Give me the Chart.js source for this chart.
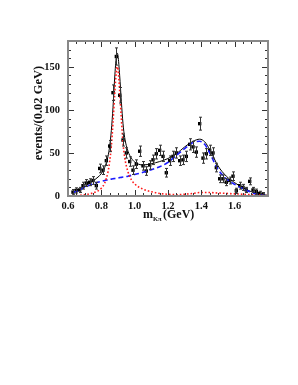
<!DOCTYPE html>
<html><head><meta charset="utf-8">
<script src="https://cdn.jsdelivr.net/npm/chart.js@4/dist/chart.umd.min.js"></script>
<style>html,body{margin:0;padding:0;background:#fff;}canvas{display:block;}</style>
</head><body>
<canvas id="c" width="298" height="385"></canvas>
<script>
// ---- data ----
const massBins = [0.63,0.65,0.67,0.69,0.71,0.73,0.75,0.77,0.79,0.81,0.83,0.85,0.87,0.89,0.91,0.93,0.95,0.97,0.99,1.01,1.03,1.05,1.07,1.09,1.11,1.13,1.15,1.17,1.19,1.21,1.23,1.25,1.27,1.29,1.31,1.33,1.35,1.37,1.39,1.41,1.43,1.45,1.47,1.49,1.51,1.53,1.55,1.57,1.59,1.61,1.63,1.65,1.67,1.69,1.71,1.73,1.75,1.77];
const counts = [4.5,6.5,7,12,15,16,18,12,32,30,41,58,120,162,117,65,50,40,30,37,52,35,29,36,42,49,53,46,27,41,46,50,41,42,46,60,57,51,84,44,49,53,50,33,20,20,16,18,23,6,12,10,7,17,7,5,3,2];
const errors = [3,3,3,4,4,4,4.5,4,5,5,5.5,6.5,9,10,9,7,6,5.5,5,5,6,5,5,5,5.5,6,6,6,5,5.5,6,6,5.5,5.5,6,6.5,6.5,6,7.5,6,6,6,6,5,4.5,4.5,4,4,5,3,4,3.5,3,4,3,3,2.5,2];

const curveMass = [0.63,0.66,0.70,0.74,0.78,0.80,0.82,0.84,0.85,0.86,0.87,0.88,0.89,0.895,0.90,0.91,0.92,0.93,0.94,0.96,0.98,1.00,1.05,1.10,1.15,1.20,1.25,1.30,1.35,1.39,1.42,1.45,1.50,1.55,1.60,1.65,1.70,1.75,1.80];
const totalFit = [4,6.5,11,16,22,26,33,46,58,76,103,137,162,166,163,140,110,84,68,52,44,39.5,36,37.5,40,43.5,49,57,63.5,66,63,54,35,23,15.5,9.5,5,2,0.8];
const kstarFit = [0,0.5,1.5,3,6,9,15,28,40,58,85,118,145,150,147,122,90,62,45,28,19,14,8,5,3,2,1.5,2,3,4,4,4,3.5,3,2.5,2,1.5,1,0.5];
const broadFit = [4,6,10,13.5,16,17,18,18.8,19.2,19.6,20,20.3,20.6,20.8,21,21.3,21.6,22,22.3,23,24,25,27.5,30.5,34,39,47,55,62,63.5,60,50,31,20,13.5,8.5,4.2,1.2,0.3];

const xTickValues = [0.6,0.8,1.0,1.2,1.4,1.6];
const xTickLabels = ['0.6','0.8','1.0','1.2','1.4','1.6'];
const yTickValues = [0,50,100,150];
const yTickLabels = ['0','50','100','150'];
const yTitle = 'events/(0.02 GeV)';
const xTitleMain = 'm';
const xTitleSub = 'Kπ';
const xTitleUnit = '(GeV)';

// ---- build ----
const pts = (xs, ys) => xs.map((v, i) => ({x: v, y: ys[i]}));
const SERIF = '"Liberation Serif", serif';

const framePlugin = {
  id: 'frameTicks',
  afterDatasetsDraw(chart) {
    const {ctx, scales: {x, y}} = chart;
    ctx.save();
    ctx.strokeStyle = '#333';
    ctx.lineWidth = 1;
    massBins.forEach((m, i) => {
      const px = Math.round(x.getPixelForValue(m)) + 0.5;
      const t = y.getPixelForValue(counts[i] + errors[i]);
      const b = y.getPixelForValue(Math.max(0, counts[i] - errors[i]));
      ctx.beginPath();
      ctx.moveTo(px, t); ctx.lineTo(px, b);
      ctx.moveTo(px - 1.5, t); ctx.lineTo(px + 1.5, t);
      ctx.moveTo(px - 1.5, b); ctx.lineTo(px + 1.5, b);
      ctx.stroke();
    });
    ctx.restore();
  },
  afterDraw(chart) {
    const {ctx, chartArea: a, scales: {x, y}} = chart;
    ctx.save();
    ctx.strokeStyle = '#333';
    ctx.lineWidth = 1;
    ctx.beginPath();
    for (let k = 0; k <= 24; k++) {
      const v = 0.6 + k * 0.05;
      const px = Math.round(x.getPixelForValue(v)) + 0.5;
      const len = (k % 4 === 0) ? 6 : 3;
      ctx.moveTo(px, a.bottom); ctx.lineTo(px, a.bottom - len);
      ctx.moveTo(px, a.top); ctx.lineTo(px, a.top + len);
    }
    for (let k = 0; k <= 18; k++) {
      const v = k * 10;
      const py = Math.round(y.getPixelForValue(v)) + 0.5;
      const len = (k % 5 === 0) ? 6 : 3;
      ctx.moveTo(a.left, py); ctx.lineTo(a.left + len, py);
      ctx.moveTo(a.right, py); ctx.lineTo(a.right - len, py);
    }
    ctx.stroke();
    ctx.strokeStyle = '#888';
    ctx.lineWidth = 2;
    ctx.strokeRect(a.left, a.top, a.right - a.left, a.bottom - a.top);

    // axis titles
    ctx.fillStyle = '#111';
    ctx.font = 'bold 12px ' + SERIF;
    ctx.textBaseline = 'alphabetic';
    ctx.textAlign = 'left';
    ctx.fillText(xTitleMain, 143, 218);
    ctx.font = 'bold 6.5px ' + SERIF;
    ctx.fillText(xTitleSub, 153, 221);
    ctx.font = 'bold 12px ' + SERIF;
    ctx.fillText(xTitleUnit, 163, 218);

    ctx.translate(38.5, 113);
    ctx.rotate(-Math.PI / 2);
    ctx.textAlign = 'center';
    ctx.textBaseline = 'middle';
    ctx.font = 'bold 12.5px ' + SERIF;
    ctx.fillText(yTitle, 0, 0);
    ctx.restore();
  }
};

new Chart(document.getElementById('c'), {
  type: 'scatter',
  data: {
    datasets: [
      {label: 'K*(892)', data: pts(curveMass, kstarFit), showLine: true, borderColor: '#ff1a1a', borderWidth: 1.6, borderDash: [1.6, 2], pointRadius: 0, cubicInterpolationMode: 'monotone', fill: false},
      {label: 'broad', data: pts(curveMass, broadFit), showLine: true, borderColor: '#1a1aff', borderWidth: 1.6, borderDash: [5, 3], pointRadius: 0, cubicInterpolationMode: 'monotone', fill: false},
      {label: 'total', data: pts(curveMass, totalFit), showLine: true, borderColor: '#000', borderWidth: 1, pointRadius: 0, cubicInterpolationMode: 'monotone', fill: false},
      {label: 'data', data: pts(massBins, counts), showLine: false, pointStyle: 'rect', pointRadius: 2.4, backgroundColor: '#000', borderColor: '#000', borderWidth: 0}
    ]
  },
  options: {
    responsive: false,
    animation: false,
    devicePixelRatio: 1,
    layout: {padding: {top: 41, right: 30, left: 0, bottom: 0}},
    plugins: {legend: {display: false}, tooltip: {enabled: false}},
    scales: {
      x: {
        type: 'linear', min: 0.6, max: 1.8,
        grid: {display: false, drawTicks: false},
        border: {display: false},
        afterBuildTicks: s => { s.ticks = xTickValues.map(v => ({value: v})); },
        afterFit: s => { s.height = 189; },
        ticks: {padding: 4, color: '#111', font: {family: SERIF, size: 10.5, weight: 'bold'}, maxRotation: 0, autoSkip: false,
          callback: (v, i) => xTickLabels[i]}
      },
      y: {
        type: 'linear', min: 0, max: 180,
        grid: {display: false, drawTicks: false},
        border: {display: false},
        afterBuildTicks: s => { s.ticks = yTickValues.map(v => ({value: v})); },
        afterFit: s => { s.width = 68; },
        ticks: {padding: 8, color: '#111', font: {family: SERIF, size: 10.5, weight: 'bold'}, autoSkip: false,
          callback: (v, i) => yTickLabels[i]}
      }
    }
  },
  plugins: [framePlugin]
});
</script>
</body></html>
